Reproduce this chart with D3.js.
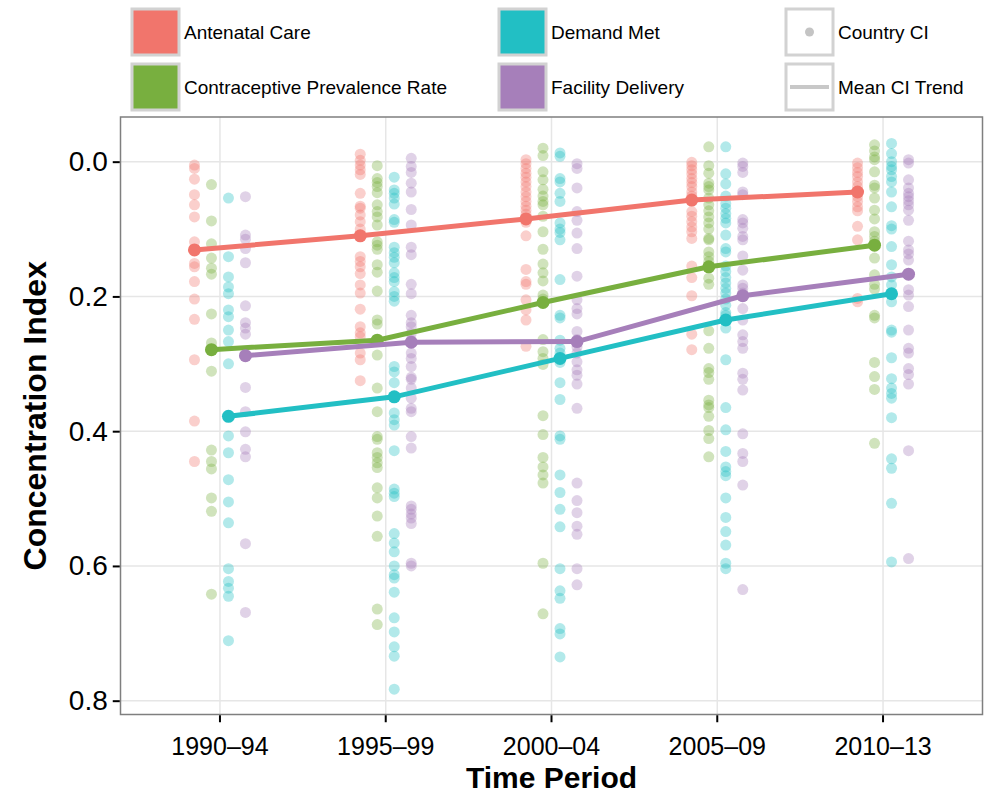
<!DOCTYPE html>
<html>
<head>
<meta charset="utf-8">
<script src="https://cdn.jsdelivr.net/npm/d3@7"></script>
<style>
  body { margin: 0; background: #fff; }
  svg { font-family: "Liberation Sans", Arial, Helvetica, sans-serif; }
</style>
</head>
<body>
<div id="chart"></div>
<script>
// Time periods and indicators
const periods = ['1990–94', '1995–99', '2000–04', '2005–09', '2010–13'];
const indicators = ['Antenatal Care', 'Contraceptive Prevalence Rate', 'Demand Met', 'Facility Delivery'];
const colors = ['#F1756C', '#78AF3F', '#22BFC4', '#A67FBA'];
const yTicks = [0.0, 0.2, 0.4, 0.6, 0.8];

// Mean concentration index per period
const meanAntenatal = [0.131, 0.110, 0.085, 0.057, 0.045];
const meanContraceptive = [0.279, 0.265, 0.209, 0.156, 0.124];
const meanDemand = [0.378, 0.349, 0.292, 0.235, 0.196];
const meanFacility = [0.288, 0.268, 0.267, 0.199, 0.167];

// Country concentration indices, one list per period
const ciAntenatal = [
    [0.005, 0.010, 0.026, 0.049, 0.064, 0.082, 0.119, 0.151, 0.156, 0.178, 0.204, 0.234, 0.294, 0.385, 0.445],
    [-0.011, -0.002, 0.005, 0.012, 0.019, 0.047, 0.066, 0.069, 0.079, 0.089, 0.100, 0.141, 0.148, 0.156, 0.166, 0.183, 0.195, 0.219, 0.245, 0.254, 0.260, 0.284, 0.294, 0.325],
    [-0.003, 0.003, 0.010, 0.017, 0.023, 0.030, 0.037, 0.045, 0.052, 0.059, 0.066, 0.072, 0.078, 0.090, 0.110, 0.160, 0.178, 0.182, 0.205, 0.220, 0.235, 0.274],
    [0.001, 0.006, 0.012, 0.018, 0.025, 0.031, 0.037, 0.045, 0.051, 0.074, 0.081, 0.089, 0.097, 0.104, 0.114, 0.155, 0.172, 0.199, 0.256, 0.279],
    [0.002, 0.009, 0.016, 0.022, 0.030, 0.037, 0.052, 0.059, 0.067, 0.073, 0.096, 0.116, 0.203, 0.208]
];
const ciContraceptive = [
    [0.034, 0.088, 0.122, 0.143, 0.158, 0.167, 0.226, 0.269, 0.311, 0.428, 0.445, 0.456, 0.499, 0.519, 0.642],
    [0.006, 0.025, 0.031, 0.037, 0.046, 0.064, 0.074, 0.082, 0.094, 0.119, 0.124, 0.130, 0.153, 0.164, 0.192, 0.235, 0.241, 0.287, 0.336, 0.371, 0.408, 0.412, 0.432, 0.439, 0.447, 0.454, 0.484, 0.499, 0.526, 0.556, 0.664, 0.687],
    [-0.020, -0.009, 0.015, 0.027, 0.041, 0.051, 0.059, 0.064, 0.081, 0.104, 0.130, 0.152, 0.165, 0.177, 0.198, 0.204, 0.264, 0.282, 0.292, 0.301, 0.377, 0.405, 0.439, 0.453, 0.465, 0.477, 0.596, 0.671],
    [-0.022, 0.006, 0.017, 0.032, 0.037, 0.042, 0.054, 0.064, 0.073, 0.082, 0.091, 0.100, 0.114, 0.116, 0.134, 0.141, 0.148, 0.173, 0.182, 0.251, 0.277, 0.307, 0.313, 0.323, 0.354, 0.361, 0.365, 0.378, 0.399, 0.411, 0.438],
    [-0.025, -0.016, -0.007, -0.003, 0.015, 0.035, 0.039, 0.054, 0.072, 0.085, 0.104, 0.111, 0.118, 0.143, 0.168, 0.182, 0.189, 0.228, 0.232, 0.298, 0.319, 0.338, 0.418]
];
const ciDemand = [
    [0.054, 0.141, 0.171, 0.186, 0.196, 0.220, 0.230, 0.250, 0.267, 0.300, 0.407, 0.432, 0.472, 0.505, 0.536, 0.604, 0.623, 0.633, 0.645, 0.711],
    [0.023, 0.042, 0.047, 0.054, 0.063, 0.086, 0.090, 0.127, 0.135, 0.142, 0.150, 0.165, 0.172, 0.178, 0.193, 0.200, 0.207, 0.304, 0.312, 0.328, 0.373, 0.383, 0.391, 0.429, 0.486, 0.492, 0.497, 0.552, 0.566, 0.579, 0.600, 0.613, 0.618, 0.639, 0.677, 0.698, 0.720, 0.734, 0.783],
    [-0.013, -0.008, 0.025, 0.030, 0.047, 0.059, 0.091, 0.100, 0.105, 0.116, 0.175, 0.228, 0.232, 0.265, 0.277, 0.284, 0.298, 0.328, 0.353, 0.407, 0.412, 0.465, 0.491, 0.516, 0.542, 0.604, 0.637, 0.648, 0.693, 0.701, 0.735],
    [-0.022, 0.018, 0.033, 0.051, 0.062, 0.069, 0.077, 0.084, 0.091, 0.109, 0.129, 0.134, 0.155, 0.163, 0.172, 0.180, 0.188, 0.195, 0.204, 0.213, 0.224, 0.228, 0.247, 0.294, 0.365, 0.398, 0.430, 0.453, 0.460, 0.466, 0.499, 0.528, 0.549, 0.569, 0.596, 0.604],
    [-0.027, -0.012, 0.000, 0.007, 0.012, 0.022, 0.030, 0.045, 0.067, 0.095, 0.100, 0.126, 0.153, 0.171, 0.183, 0.208, 0.250, 0.253, 0.291, 0.322, 0.336, 0.344, 0.351, 0.380, 0.441, 0.455, 0.507, 0.594]
];
const ciFacility = [
    [0.052, 0.109, 0.115, 0.129, 0.150, 0.214, 0.239, 0.247, 0.256, 0.288, 0.335, 0.371, 0.401, 0.427, 0.438, 0.567, 0.669],
    [-0.005, 0.007, 0.016, 0.032, 0.045, 0.071, 0.094, 0.127, 0.138, 0.182, 0.196, 0.228, 0.239, 0.245, 0.255, 0.265, 0.284, 0.292, 0.304, 0.320, 0.323, 0.336, 0.351, 0.366, 0.371, 0.408, 0.425, 0.511, 0.516, 0.523, 0.529, 0.537, 0.596, 0.600],
    [0.003, 0.010, 0.039, 0.074, 0.087, 0.106, 0.129, 0.170, 0.205, 0.218, 0.226, 0.252, 0.264, 0.275, 0.284, 0.297, 0.309, 0.317, 0.330, 0.366, 0.477, 0.503, 0.521, 0.541, 0.553, 0.604, 0.628],
    [0.002, 0.007, 0.016, 0.045, 0.049, 0.086, 0.091, 0.099, 0.111, 0.116, 0.140, 0.161, 0.183, 0.188, 0.195, 0.218, 0.235, 0.257, 0.267, 0.277, 0.314, 0.323, 0.339, 0.404, 0.433, 0.445, 0.480, 0.635],
    [-0.003, 0.002, 0.027, 0.039, 0.047, 0.052, 0.058, 0.064, 0.072, 0.087, 0.118, 0.131, 0.137, 0.146, 0.190, 0.198, 0.215, 0.250, 0.277, 0.284, 0.307, 0.316, 0.330, 0.429, 0.589]
];

const means = [meanAntenatal, meanContraceptive, meanDemand, meanFacility];
const cis = [ciAntenatal, ciContraceptive, ciDemand, ciFacility];

// Dimensions
const svgWidth = 988;
const svgHeight = 795;
const panel = { left: 120.5, right: 982.5, top: 117, bottom: 714.5 };

const svg = d3.select('#chart')
    .append('svg')
    .attr('width', svgWidth)
    .attr('height', svgHeight);

// Scales
const xScale = d3.scaleBand()
    .domain(periods)
    .range([panel.left, panel.right])
    .paddingInner(0)
    .paddingOuter(0.1);

const dodge = d3.scaleBand()
    .domain(indicators)
    .range([-34, 34]);

const yScale = d3.scaleLinear()
    .domain([-0.0663, 0.8205])
    .range([panel.top, panel.bottom]);

const colorScale = d3.scaleOrdinal().domain(indicators).range(colors);

const xc = p => xScale(p) + xScale.bandwidth() / 2;
const xPos = (p, ind) => xc(p) + dodge(ind) + dodge.bandwidth() / 2;

// Panel background and grid
svg.append('rect')
    .attr('x', panel.left)
    .attr('y', panel.top)
    .attr('width', panel.right - panel.left)
    .attr('height', panel.bottom - panel.top)
    .attr('fill', '#fff');

svg.append('g')
    .selectAll('line')
    .data(yTicks)
    .enter()
    .append('line')
    .attr('x1', panel.left)
    .attr('x2', panel.right)
    .attr('y1', d => yScale(d))
    .attr('y2', d => yScale(d))
    .attr('stroke', '#e6e6e6')
    .attr('stroke-width', 1.5);

svg.append('g')
    .selectAll('line')
    .data(periods)
    .enter()
    .append('line')
    .attr('x1', d => xc(d))
    .attr('x2', d => xc(d))
    .attr('y1', panel.top)
    .attr('y2', panel.bottom)
    .attr('stroke', '#e6e6e6')
    .attr('stroke-width', 1.5);

// Country points
indicators.forEach((ind, i) => {
    const pts = [];
    periods.forEach((p, j) => cis[i][j].forEach(v => pts.push({ p, v })));
    svg.append('g')
        .selectAll('circle')
        .data(pts)
        .enter()
        .append('circle')
        .attr('cx', d => xPos(d.p, ind))
        .attr('cy', d => yScale(d.v))
        .attr('r', 5.5)
        .attr('fill', colorScale(ind))
        .attr('fill-opacity', 0.35);
});

// Mean trend lines
const line = d3.line()
    .x(d => xPos(d.p, d.ind))
    .y(d => yScale(d.v));

indicators.forEach((ind, i) => {
    const pts = periods.map((p, j) => ({ p, ind, v: means[i][j] }));
    svg.append('path')
        .datum(pts)
        .attr('d', line)
        .attr('fill', 'none')
        .attr('stroke', colorScale(ind))
        .attr('stroke-width', 5);
    svg.append('g')
        .selectAll('circle')
        .data(pts)
        .enter()
        .append('circle')
        .attr('cx', d => xPos(d.p, ind))
        .attr('cy', d => yScale(d.v))
        .attr('r', 6.5)
        .attr('fill', colorScale(ind));
});

// Panel border
svg.append('rect')
    .attr('x', panel.left)
    .attr('y', panel.top)
    .attr('width', panel.right - panel.left)
    .attr('height', panel.bottom - panel.top)
    .attr('fill', 'none')
    .attr('stroke', '#7f7f7f')
    .attr('stroke-width', 1.5);

// Axes
const yAxis = svg.append('g')
    .attr('transform', `translate(${panel.left - 0.75}, 0)`)
    .call(d3.axisLeft(yScale).tickValues(yTicks).tickFormat(d3.format('.1f')).tickSize(7).tickPadding(5));

const xAxis = svg.append('g')
    .attr('transform', `translate(0, ${panel.bottom + 0.75})`)
    .call(d3.axisBottom(xScale).tickSize(7).tickPadding(15));

[xAxis, yAxis].forEach(ax => {
    ax.select('.domain').remove();
    ax.selectAll('.tick line').attr('stroke', '#000').attr('stroke-width', 2);
    ax.selectAll('.tick text')
        .attr('fill', '#000')
        .style('font-family', '"Liberation Sans", Arial, sans-serif');
});
xAxis.selectAll('.tick text').style('font-size', '25px');
yAxis.selectAll('.tick text').style('font-size', '28px');

// Axis titles
svg.append('text')
    .attr('x', (panel.left + panel.right) / 2)
    .attr('y', 788)
    .attr('text-anchor', 'middle')
    .style('font-size', '30px')
    .style('font-weight', 'bold')
    .text('Time Period');

svg.append('text')
    .attr('transform', `translate(46, ${(panel.top + panel.bottom) / 2}) rotate(-90)`)
    .attr('text-anchor', 'middle')
    .style('font-size', '32px')
    .style('font-weight', 'bold')
    .text('Concentration Index');

// Legend
const legendItems = [
    { label: 'Antenatal Care', x: 132, y: 9, type: 'fill', color: colors[0] },
    { label: 'Contraceptive Prevalence Rate', x: 132, y: 64, type: 'fill', color: colors[1] },
    { label: 'Demand Met', x: 499, y: 9, type: 'fill', color: colors[2] },
    { label: 'Facility Delivery', x: 499, y: 64, type: 'fill', color: colors[3] },
    { label: 'Country CI', x: 786, y: 9, type: 'point' },
    { label: 'Mean CI Trend', x: 786, y: 64, type: 'line' }
];
const keyW = 47, keyH = 46;

const legend = svg.selectAll('.legend')
    .data(legendItems)
    .enter()
    .append('g')
    .attr('class', 'legend')
    .attr('transform', d => `translate(${d.x}, ${d.y})`);

legend.append('rect')
    .attr('width', keyW)
    .attr('height', keyH)
    .attr('fill', d => d.type === 'fill' ? d.color : '#fff')
    .attr('stroke', '#d2d2d2')
    .attr('stroke-width', 3);

legend.filter(d => d.type === 'point')
    .append('circle')
    .attr('cx', keyW / 2)
    .attr('cy', keyH / 2)
    .attr('r', 4.5)
    .attr('fill', '#c4c4c4');

legend.filter(d => d.type === 'line')
    .append('line')
    .attr('x1', 4)
    .attr('x2', keyW - 4)
    .attr('y1', keyH / 2)
    .attr('y2', keyH / 2)
    .attr('stroke', '#c8c8c8')
    .attr('stroke-width', 4);

legend.append('text')
    .attr('x', keyW + 5)
    .attr('y', keyH / 2)
    .attr('dy', '0.35em')
    .style('font-size', '19px')
    .text(d => d.label);
</script>
</body>
</html>
